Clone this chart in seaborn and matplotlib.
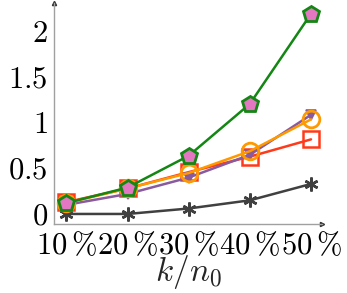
import matplotlib
matplotlib.use("Agg")
import matplotlib.pyplot as plt
import seaborn as sns
import pandas as pd

# data
k_ratio = [10, 20, 30, 40, 50]
tick_labels = [r"$10\,\%$", r"$20\,\%$", r"$30\,\%$", r"$40\,\%$", r"$50\,\%$"]
gray_vals = [-0.02, -0.02, 0.04, 0.13, 0.31]
red_vals = [0.11, 0.26, 0.44, 0.61, 0.80]
purple_vals = [0.08, 0.20, 0.38, 0.63, 1.07]
orange_vals = [0.10, 0.26, 0.43, 0.67, 1.02]
green_vals = [0.10, 0.27, 0.62, 1.19, 2.18]

series = {
    "gray": gray_vals,
    "red": red_vals,
    "purple": purple_vals,
    "orange": orange_vals,
    "green": green_vals,
}
rows = []
for name, vals in series.items():
    for x, y in zip(k_ratio, vals):
        rows.append({"k": x, "val": y, "series": name})
df = pd.DataFrame(rows)

styles = {
    "gray": dict(color="#404040", marker=(6, 2, 0), ms=10, mfc="#404040", mec="#404040", mew=1.8),
    "red": dict(color="#ff3a1a", marker="s", ms=11, mfc="none", mec="#ff3a1a", mew=1.8),
    "purple": dict(color="#8a5a9e", marker="v", ms=7, mfc="#8a5a9e", mec="#8a5a9e", mew=1.2),
    "orange": dict(color="#ff9900", marker="o", ms=12, mfc="none", mec="#ff9900", mew=2.0),
    "green": dict(color="#138613", marker="p", ms=12, mfc="#e377c2", mec="#138613", mew=2.0),
}

sns.set_style("white")
plt.rcParams["mathtext.fontset"] = "cm"
plt.rcParams["font.family"] = ["DejaVu Serif"]

fig = plt.figure(figsize=(3.47, 2.93), dpi=100)
ax = fig.add_axes([0.156, 0.235, 0.772, 0.754])

for name in series:
    st = styles[name]
    sns.lineplot(data=df[df["series"] == name], x="k", y="val", ax=ax,
                 color=st["color"], linewidth=1.8, marker=st["marker"],
                 markersize=st["ms"], markerfacecolor=st["mfc"],
                 markeredgecolor=st["mec"], markeredgewidth=st["mew"],
                 legend=False, clip_on=False)

ax.set_xlim(8.0, 51.8)
ax.set_ylim(-0.132, 2.297)
ax.set_xticks(k_ratio)
ax.set_xticklabels(tick_labels)
ax.set_yticks([0, 0.5, 1, 1.5, 2])
ax.set_yticklabels([r"$0$", r"$0.5$", r"$1$", r"$1.5$", r"$2$"])
ax.tick_params(axis="both", labelsize=22, colors="#a0a0a0", length=3,
               direction="inout", width=0.8, pad=3, labelcolor="black")
ax.set_xlabel(r"$k/n_0$", fontsize=24, labelpad=-6)
ax.set_ylabel("")

for side in ["top", "right"]:
    ax.spines[side].set_visible(False)
for side in ["left", "bottom"]:
    ax.spines[side].set_color("#a0a0a0")
    ax.spines[side].set_linewidth(1.0)
ax.plot(1, 0, marker=">", color="#303030", ms=3, transform=ax.transAxes, clip_on=False)
ax.plot(0, 1, marker="^", color="#303030", ms=3, transform=ax.transAxes, clip_on=False)

fig.savefig("out.png", dpi=100)
